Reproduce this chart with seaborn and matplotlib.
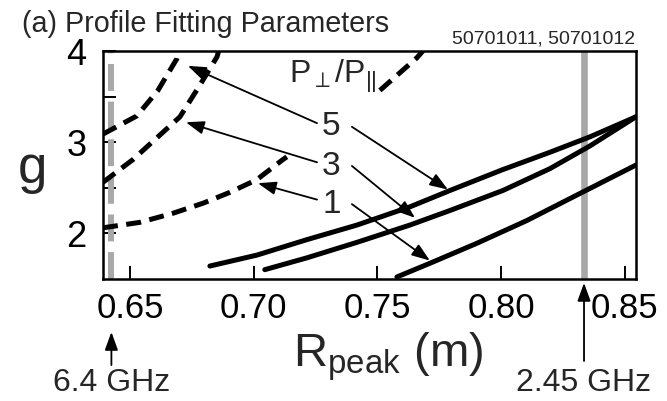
import numpy as np
import pandas as pd
import matplotlib
matplotlib.use("Agg")
import matplotlib.pyplot as plt
import matplotlib.transforms as mtransforms
import seaborn as sns

# ---------------- data ----------------
# dashed curves (P_perp/P_par = 5, 3, 1)
dash5_R = [0.6391, 0.6528, 0.6613, 0.6690, 0.6698]
dash5_g = [3.09, 3.29, 3.57, 3.92, 4.02]
dash3_R = [0.6391, 0.6512, 0.6609, 0.6702, 0.6783, 0.6852, 0.6860]
dash3_g = [2.56, 2.81, 3.05, 3.28, 3.63, 3.94, 4.02]
dash1a_R = [0.6391, 0.6540, 0.6674, 0.6795, 0.6904, 0.7013, 0.7118, 0.7134]
dash1a_g = [2.06, 2.12, 2.22, 2.33, 2.45, 2.59, 2.81, 2.84]
dash1b_R = [0.7510, 0.7660, 0.7692]
dash1b_g = [3.57, 3.93, 4.03]
# solid curves
solid5_R = [0.6823, 0.7013, 0.7215, 0.7417, 0.7631, 0.7793, 0.8007, 0.8197, 0.8359, 0.8545]
solid5_g = [1.64, 1.76, 1.93, 2.09, 2.29, 2.47, 2.70, 2.89, 3.06, 3.28]
solid3_R = [0.7045, 0.7215, 0.7417, 0.7631, 0.7793, 0.8007, 0.8197, 0.8359, 0.8545]
solid3_g = [1.60, 1.73, 1.90, 2.09, 2.25, 2.47, 2.71, 2.96, 3.28]
solid1_R = [0.7579, 0.7712, 0.7902, 0.8104, 0.8306, 0.8545]
solid1_g = [1.52, 1.67, 1.89, 2.14, 2.42, 2.75]

ratio_labels = ["5", "3", "1"]
ratio_label_R = [0.7314, 0.7314, 0.7314]
ratio_label_g = [3.08, 2.64, 2.22]
# arrows from ratio labels to curves
arrow_start_R = [0.7256, 0.7256, 0.7256, 0.7397, 0.7397, 0.7397]
arrow_start_g = [3.21, 2.78, 2.37, 3.17, 2.74, 2.32]
arrow_tip_R = [0.6734, 0.6726, 0.7017, 0.7785, 0.7652, 0.7712]
arrow_tip_g = [3.84, 3.22, 2.55, 2.48, 2.17, 1.70]

ghz_labels = ["6.4 GHz", "2.45 GHz"]
ghz_R = [0.6425, 0.8335]

xticks = [0.65, 0.70, 0.75, 0.80, 0.85]
xticklabels = ["0.65", "0.70", "0.75", "0.80", "0.85"]
yticks = [2, 3, 4]
yticklabels = ["2", "3", "4"]
yminor = [2.5, 3.5]

# ---------------- build table ----------------
rows = []
curves = [("d5", "dashed", dash5_R, dash5_g), ("d3", "dashed", dash3_R, dash3_g),
          ("d1a", "dashed", dash1a_R, dash1a_g), ("d1b", "dashed", dash1b_R, dash1b_g),
          ("s5", "solid", solid5_R, solid5_g), ("s3", "solid", solid3_R, solid3_g),
          ("s1", "solid", solid1_R, solid1_g)]
for cid, kind, R, g in curves:
    for r, gv in zip(R, g):
        rows.append({"curve": cid, "kind": kind, "R": r, "g": gv})
df = pd.DataFrame(rows)

# ---------------- style ----------------
sns.set_style("ticks")
FONT = ["Liberation Sans", "DejaVu Sans"]
plt.rcParams["font.family"] = FONT
plt.rcParams["mathtext.fontset"] = "custom"
plt.rcParams["mathtext.rm"] = "Liberation Sans"
plt.rcParams["mathtext.it"] = "Liberation Sans:italic"
plt.rcParams["mathtext.sf"] = "Liberation Sans"

fig = plt.figure(figsize=(6.67, 4.01), dpi=100)
ax = fig.add_axes([0.1544, 0.3030, 0.7991, 0.5691])

ax.axvline(ghz_R[0], color="#a8a8a8", lw=4.3, dashes=(4.5, 1.8), zorder=1)
ax.axvline(ghz_R[1], color="#a8a8a8", lw=4.75, zorder=1)

sns.lineplot(data=df, x="R", y="g", units="curve", estimator=None, style="kind",
             dashes={"solid": "", "dashed": (3.0, 1.7)}, color="black",
             linewidth=3.6, legend=False, ax=ax, zorder=3)

ax.set_xlim(0.6391, 0.8545)
ax.set_ylim(1.492, 4.0)
ax.set_xticks(xticks)
ax.set_xticklabels(xticklabels)
ax.set_yticks(yticks)
ax.set_yticklabels(yticklabels)
ax.set_yticks(yminor, minor=True)
ax.tick_params(axis="both", which="both", direction="in", length=9.5, width=1.4,
               top=False, right=False, colors="black")
ax.tick_params(axis="x", labelsize=25, pad=9)
ax.tick_params(axis="y", labelsize=26, pad=12)
for s in ax.spines.values():
    s.set_linewidth(1.8)
    s.set_color("black")

ax.set_xlabel(r"R$_{\mathrm{peak}}$ (m)", fontsize=34)
ax.xaxis.label.set_ha("left")
ax.xaxis.label.set_va("baseline")
ax.xaxis.set_label_coords(0.3565, -0.383)
ax.set_ylabel("g", fontsize=38, rotation=0)
ax.yaxis.label.set_ha("center")
ax.yaxis.label.set_va("baseline")
ax.yaxis.set_label_coords(-0.133, 0.423)

# ratio labels and arrows
ax.text(0.7318, 3.652, r"P$_{\perp}$/P$_{||}$", fontsize=23, ha="center", va="baseline")
for lab, r, gv in zip(ratio_labels, ratio_label_R, ratio_label_g):
    ax.text(r, gv, lab, fontsize=24, ha="center", va="baseline")
aprops = dict(arrowstyle="-|>,head_length=0.55,head_width=0.2", mutation_scale=20,
              lw=1.3, color="black", shrinkA=0, shrinkB=0)
for r0, g0, r1, g1 in zip(arrow_start_R, arrow_start_g, arrow_tip_R, arrow_tip_g):
    ax.annotate("", xy=(r1, g1), xytext=(r0, g0), arrowprops=aprops, zorder=4)

# frequency markers below axis
blend = mtransforms.blended_transform_factory(ax.transData, ax.transAxes)
gprops = dict(arrowstyle="-|>,head_length=0.55,head_width=0.2", mutation_scale=20,
              lw=1.3, color="black", shrinkA=0, shrinkB=0)
ax.annotate("", xy=(ghz_R[0], -0.230), xytext=(ghz_R[0], -0.375), xycoords=blend,
            textcoords=blend, arrowprops=gprops, annotation_clip=False)
ax.annotate("", xy=(ghz_R[1], -0.015), xytext=(ghz_R[1], -0.357), xycoords=blend,
            textcoords=blend, arrowprops=gprops, annotation_clip=False)
for lab, r in zip(ghz_labels, ghz_R):
    ax.text(r, -0.490, lab, transform=blend, fontsize=23, ha="center", va="baseline")

fig.text(22 / 667, 1 - 32 / 401, "(a) Profile Fitting Parameters", fontsize=20.7,
         va="baseline", ha="left")
fig.text(635 / 667, 1 - 43 / 401, "50701011, 50701012", fontsize=14,
         va="baseline", ha="right")

fig.savefig("out.png", dpi=100)
